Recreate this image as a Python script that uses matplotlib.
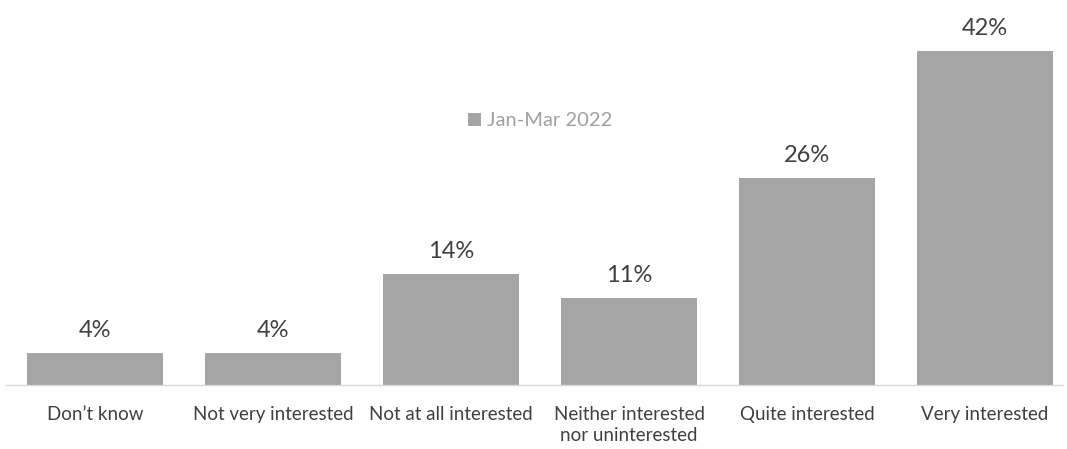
import matplotlib
matplotlib.use("Agg")
import matplotlib.pyplot as plt

categories = ["Don\u2019t know", "Not very interested", "Not at all interested",
              "Neither interested\nnor uninterested", "Quite interested", "Very interested"]
values = [4, 4, 14, 11, 26, 42]
series_name = "Jan-Mar 2022"

plt.rcParams["font.family"] = ["Lato", "DejaVu Sans"]

fig = plt.figure(figsize=(10.67, 4.49), dpi=100)
W, H = 1067, 449
ax = fig.add_axes([6 / W, (H - 385) / H, (1063 - 6) / W, 385 / H])

bar_color = "#A5A5A5"
x = list(range(len(categories)))
bars = ax.bar(x, values, width=0.765, color=bar_color, label=series_name, zorder=2)

for xi, v in zip(x, values):
    ax.annotate(f"{v}%", (xi, v), xytext=(0, 8.5), textcoords="offset points",
                ha="center", va="bottom", fontsize=17, color="#404040")

ax.set_xlim(-0.5, 5.5 - 11 / 178)
ax.set_ylim(0, 385 / 7.95)
ax.set_xticks(x)
ax.set_xticklabels(categories, fontsize=13.5, color="#404040", linespacing=1.3)
ax.tick_params(axis="x", length=0, pad=15)
ax.set_yticks([])
for side in ["top", "right", "left"]:
    ax.spines[side].set_visible(False)
ax.spines["bottom"].set_color("#D9D9D9")
ax.spines["bottom"].set_linewidth(1)

leg = ax.legend(loc="center", bbox_to_anchor=(540 / W, (H - 121) / H),
                bbox_transform=fig.transFigure, frameon=False, fontsize=14.5,
                handlelength=0.65, handleheight=0.65, handletextpad=0.3)
for t in leg.get_texts():
    t.set_color("#A0A0A0")

fig.savefig("out.png", dpi=100)
